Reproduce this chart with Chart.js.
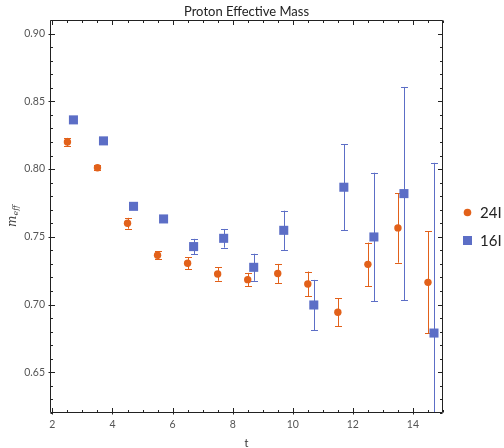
<!DOCTYPE html>
<html><head><meta charset="utf-8">
<script src="https://cdn.jsdelivr.net/npm/chart.js@4"></script>
<style>html,body{margin:0;padding:0;background:#fff}#wrap{width:504px;height:448px}</style>
</head><body><div id="wrap"><canvas id="c" width="504" height="448"></canvas></div>
<script>
const chartTitle = 'Proton Effective Mass';
const seriesNames = ['24I', '16I'];
const t24 = [2.5, 3.5, 4.5, 5.5, 6.5, 7.5, 8.5, 9.5, 10.5, 11.5, 12.5, 13.5, 14.5];
const m24 = [0.820, 0.801, 0.760, 0.7364, 0.7305, 0.7226, 0.7184, 0.7229, 0.7152, 0.6943, 0.7297, 0.7566, 0.7164];
const e24 = [0.003, 0.002, 0.004, 0.003, 0.0045, 0.005, 0.005, 0.0071, 0.0092, 0.0103, 0.016, 0.0257, 0.0376];
const t16 = [2.7, 3.7, 4.7, 5.7, 6.7, 7.7, 8.7, 9.7, 10.7, 11.7, 12.7, 13.7, 14.7];
const m16 = [0.8363, 0.8208, 0.7725, 0.7632, 0.7428, 0.7489, 0.7275, 0.7548, 0.6997, 0.7866, 0.7499, 0.7819, 0.679];
const e16 = [0.0015, 0.0015, 0.002, 0.002, 0.0057, 0.0069, 0.010, 0.0145, 0.0185, 0.0319, 0.0474, 0.0787, 0.1256];
const xTicks = [2, 4, 6, 8, 10, 12, 14];
const yTicks = [0.65, 0.70, 0.75, 0.80, 0.85, 0.90];

const ORANGE = '#E2611A';
const BLUE = '#5C6EC6';
const FONT = 'Lato, "Liberation Sans", sans-serif';

function pts(t, m, e) { return t.map((v, i) => ({ x: v, y: m[i], e: e[i] })); }

const errorBars = {
  id: 'errorBars',
  beforeDatasetsDraw(chart) {
    const { ctx, chartArea: a, scales: { x, y } } = chart;
    ctx.save();
    ctx.beginPath();
    ctx.rect(a.left, a.top, a.right - a.left, a.bottom - a.top);
    ctx.clip();
    chart.data.datasets.forEach(ds => {
      ctx.strokeStyle = ds.borderColor;
      ctx.lineWidth = 1;
      ds.data.forEach(p => {
        const px = Math.round(x.getPixelForValue(p.x)) + 0.5;
        const y1 = y.getPixelForValue(p.y + p.e);
        const y2 = y.getPixelForValue(p.y - p.e);
        ctx.beginPath();
        ctx.moveTo(px, y1); ctx.lineTo(px, y2);
        ctx.moveTo(px - 3.5, Math.round(y1) + 0.5); ctx.lineTo(px + 3.5, Math.round(y1) + 0.5);
        ctx.moveTo(px - 3.5, Math.round(y2) + 0.5); ctx.lineTo(px + 3.5, Math.round(y2) + 0.5);
        ctx.stroke();
      });
    });
    ctx.restore();
  }
};

const frame = {
  id: 'frame',
  afterDraw(chart) {
    const { ctx, chartArea: a, scales: { x, y } } = chart;
    ctx.save();
    ctx.strokeStyle = '#222';
    ctx.lineWidth = 1;
    const L = Math.round(a.left) + 0.5, R = Math.round(a.right) - 0.5;
    const T = Math.round(a.top) + 0.5, B = Math.round(a.bottom) - 0.5;
    ctx.beginPath();
    ctx.rect(L, T, R - L, B - T);
    ctx.stroke();
    ctx.beginPath();
    for (let v = 2; v <= x.max + 1e-9; v += 0.5) {
      const px = Math.round(x.getPixelForValue(v)) + 0.5;
      const major = Math.abs(v - Math.round(v / 2) * 2) < 1e-9;
      const len = major ? 4.5 : 2.5;
      ctx.moveTo(px, B + (major ? 2 : 0)); ctx.lineTo(px, B - len);
      ctx.moveTo(px, T); ctx.lineTo(px, T + len);
    }
    for (let k = 62; k <= 91; k++) {
      const v = k / 100;
      const py = Math.round(y.getPixelForValue(v)) + 0.5;
      const major = k % 5 === 0;
      const len = major ? 4.5 : 2.5;
      ctx.moveTo(L - (major ? 2 : 0), py); ctx.lineTo(L + len, py);
      ctx.moveTo(R, py); ctx.lineTo(R - len, py);
    }
    ctx.stroke();

    const cx = (a.left + a.right) / 2;
    ctx.fillStyle = '#222';
    ctx.textAlign = 'center';
    ctx.textBaseline = 'middle';
    ctx.font = '13px ' + FONT;
    ctx.fillText(chartTitle, cx, 12);
    ctx.font = '11px ' + FONT;
    ctx.fillStyle = '#333';
    ctx.fillText('t', cx, 443);
    ctx.save();
    ctx.translate(12, 216);
    ctx.rotate(-Math.PI / 2);
    ctx.textAlign = 'left';
    ctx.textBaseline = 'alphabetic';
    ctx.fillStyle = '#444';
    ctx.font = 'italic 12px "DejaVu Serif", serif';
    const mw = ctx.measureText('m').width;
    ctx.font = 'italic 8px "DejaVu Serif", serif';
    const ew = ctx.measureText('eff').width;
    const x0 = -(mw + ew) / 2;
    ctx.font = 'italic 12px "DejaVu Serif", serif';
    ctx.fillText('m', x0, 4);
    ctx.font = 'italic 8px "DejaVu Serif", serif';
    ctx.fillText('eff', x0 + mw, 6);
    ctx.restore();

    const ds = chart.data.datasets;
    const ly = [212.5, 240.5];
    ctx.font = '15px ' + FONT;
    ctx.textAlign = 'left';
    ctx.textBaseline = 'middle';
    ds.forEach((d, i) => {
      ctx.fillStyle = d.backgroundColor;
      if (d.pointStyle === 'rect') {
        ctx.fillRect(463, ly[i] - 4.5, 9, 9);
      } else {
        ctx.beginPath(); ctx.arc(467.5, ly[i], 3.8, 0, Math.PI * 2); ctx.fill();
      }
      ctx.fillStyle = '#222';
      ctx.fillText(d.label, 480, ly[i] + 0.5);
    });
    ctx.restore();
  }
};

new Chart(document.getElementById('c'), {
  type: 'scatter',
  data: {
    datasets: [
      { label: seriesNames[0], data: pts(t24, m24, e24), pointStyle: 'circle', pointRadius: 3.7, pointHoverRadius: 3.7,
        backgroundColor: ORANGE, borderColor: ORANGE, borderWidth: 0 },
      { label: seriesNames[1], data: pts(t16, m16, e16), pointStyle: 'rect', pointRadius: 6.4, pointHoverRadius: 6.4,
        backgroundColor: BLUE, borderColor: BLUE, borderWidth: 0 }
    ]
  },
  options: {
    responsive: false,
    devicePixelRatio: 1,
    animation: false,
    layout: { padding: { top: 20, right: 61, left: 0, bottom: 0 } },
    plugins: { legend: { display: false }, title: { display: false }, tooltip: { enabled: false } },
    scales: {
      x: {
        type: 'linear', min: 1.92, max: 15,
        afterBuildTicks: s => { s.ticks = xTicks.map(v => ({ value: v })); },
        afterFit: s => { s.height = 35; },
        grid: { display: false, drawTicks: false }, border: { display: false },
        ticks: { font: { family: FONT, size: 10.5 }, color: '#555', padding: 5, maxRotation: 0, autoSkip: false,
                 callback: v => String(v) }
      },
      y: {
        type: 'linear', min: 0.62, max: 0.91,
        afterBuildTicks: s => { s.ticks = yTicks.map(v => ({ value: v })); },
        afterFit: s => { s.width = 50; },
        grid: { display: false, drawTicks: false }, border: { display: false },
        ticks: { font: { family: FONT, size: 10.5 }, color: '#555', padding: 5, autoSkip: false,
                 callback: v => Number(v).toFixed(2) }
      }
    }
  },
  plugins: [errorBars, frame]
});
</script>
</body></html>
